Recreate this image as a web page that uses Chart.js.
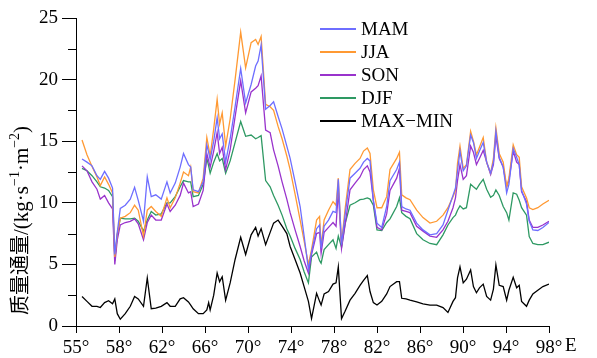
<!DOCTYPE html>
<html><head><meta charset="utf-8">
<script src="https://cdn.jsdelivr.net/npm/chart.js@4.4.1/dist/chart.umd.min.js"></script>
<style>html,body{margin:0;padding:0;background:#fff}#wrap{width:597px;height:358px;position:relative}
.pre{position:absolute;left:-999px;top:0;font-family:"Liberation Serif";font-size:19px}</style>
</head><body><span class="pre">55° MAM</span><span class="pre" style="font-family:'Noto Sans CJK SC'">质量通量</span><div id="wrap"><canvas id="c" width="597" height="358"></canvas></div>
<script>
// axis position (first tick at 54 is labelled 55°)
const lon = [54.56,55.02,55.49,55.95,56.26,56.66,57.03,57.40,57.61,57.84,
58.12,58.58,59.05,59.45,59.79,60.28,60.63,61.00,61.42,61.93,
62.46,62.76,63.23,63.69,64.00,64.46,64.67,64.90,65.39,65.83,
66.17,66.34,66.48,66.81,67.13,67.36,67.60,67.92,68.34,68.80,
69.32,69.78,70.29,70.71,70.94,71.22,71.64,72.06,72.38,72.80,
73.17,73.61,73.92,74.38,74.85,75.22,75.62,75.91,76.38,76.66,
76.80,77.08,77.49,77.91,78.19,78.40,78.70,79.03,79.49,79.96,
80.42,80.75,81.10,81.35,81.66,82.00,82.44,82.90,83.21,83.83,
84.09,84.30,84.70,85.07,85.69,86.28,86.93,87.55,88.14,88.60,
89.07,89.30,89.49,89.72,90.02,90.32,90.71,90.97,91.25,91.53,
91.88,92.20,92.57,92.83,93.06,93.37,93.74,94.06,94.27,94.67,
94.99,95.23,95.45,95.91,96.16,96.50,96.96,97.43,98.00];

const MAM = [13.55,13.3,13.0,12.2,11.9,12.55,12.0,11.2,5.8,7.6,
9.55,9.8,10.3,11.25,10.2,8.5,12.1,10.5,10.65,10.3,
11.7,10.8,11.6,12.9,14.0,13.1,12.9,11.05,10.9,11.7,
14.7,14.1,13.5,15.0,16.9,15.2,15.6,13.3,15.2,17.8,
20.9,18.1,19.6,21.1,21.5,22.8,17.6,17.9,18.2,17.0,
16.0,14.6,13.6,11.7,9.7,7.3,4.6,6.0,7.9,8.2,
6.3,8.1,8.6,9.3,9.2,11.9,6.6,9.0,12.0,12.4,
12.8,13.3,13.6,13.4,10.2,8.35,8.0,9.7,11.8,12.7,
13.3,9.7,9.5,9.4,8.35,7.8,7.4,7.5,8.2,9.4,
10.6,11.2,12.6,14.2,12.6,13.0,15.5,14.9,13.6,14.2,
14.9,13.3,12.4,13.3,15.8,13.7,12.9,10.8,11.5,14.4,
13.7,13.1,11.0,9.9,8.5,7.8,7.75,8.0,8.4];

const JJA = [15.1,13.9,12.95,12.1,11.4,12.1,11.5,10.8,5.6,7.5,
8.75,8.9,9.2,9.8,9.4,7.3,9.4,9.7,9.3,8.9,
10.4,9.6,10.4,11.6,12.5,12.2,12.9,10.9,10.8,12.0,
15.3,14.5,13.8,16.0,18.4,16.4,17.3,14.6,16.8,20.0,
23.85,20.95,23.0,23.25,22.85,23.5,18.0,17.8,17.5,16.2,
15.2,13.8,12.7,10.7,8.6,6.9,5.0,6.2,8.6,8.9,
6.45,8.6,9.4,10.1,9.8,12.0,6.7,9.5,12.7,13.2,
13.6,14.2,14.45,14.0,11.05,9.6,9.6,10.5,12.7,13.6,
14.1,10.65,10.4,10.25,9.4,8.8,8.35,8.5,9.0,9.6,
10.5,11.0,13.2,14.6,12.8,13.1,15.8,15.0,13.9,14.5,
15.3,13.3,12.4,13.6,16.1,14.0,13.3,11.3,12.0,14.7,
13.9,13.7,11.3,10.4,9.6,9.45,9.6,9.9,10.2];

const SON = [13.0,12.6,11.7,11.1,10.3,10.6,10.0,9.5,5.0,7.0,
8.2,8.4,8.5,8.7,8.3,7.0,8.4,9.0,8.6,8.6,
9.9,9.3,9.8,10.6,11.6,10.8,10.9,9.7,9.9,11.0,
14.0,13.4,12.9,14.2,15.7,14.0,14.5,12.7,14.3,17.0,
19.9,17.3,19.0,19.3,19.5,20.3,15.9,15.7,14.3,13.0,
11.7,10.3,9.2,7.8,6.45,5.3,4.3,5.8,7.5,7.6,
5.9,7.6,8.0,8.4,8.1,11.0,6.3,8.2,11.05,11.6,
12.1,12.7,13.0,12.5,10.2,8.0,7.8,9.1,11.0,12.0,
12.8,9.4,9.3,9.2,8.1,7.7,7.3,7.2,7.8,8.5,
9.6,10.4,11.8,13.1,11.9,12.2,14.6,14.1,13.1,13.6,
14.25,13.3,12.3,13.1,15.4,13.6,12.9,11.3,11.8,14.2,
13.3,13.1,10.9,10.1,8.6,8.0,8.0,8.2,8.5];

const DJF = [12.8,12.6,12.2,11.7,11.3,11.2,11.0,10.5,5.3,7.4,
8.75,8.7,8.7,8.75,8.5,7.7,8.6,9.3,9.0,9.1,
10.0,10.0,10.5,11.3,11.8,11.7,11.7,10.5,10.6,11.5,
13.6,13.0,12.4,13.3,14.0,13.4,13.6,12.4,13.4,14.9,
16.6,15.4,15.5,15.2,15.3,15.45,11.8,11.3,10.6,9.8,
9.0,7.9,7.3,6.3,5.4,4.4,3.5,5.6,6.0,5.3,
5.1,6.2,6.6,7.0,6.3,7.3,6.4,8.3,9.8,10.0,
10.25,10.3,10.4,10.3,9.8,7.8,7.75,8.4,8.7,9.7,
10.4,9.2,8.9,8.7,7.5,7.0,6.7,6.6,7.4,8.2,
8.8,9.0,9.4,9.75,9.5,9.6,11.5,11.3,11.1,11.5,
11.9,11.1,10.45,10.6,11.05,10.6,9.7,9.2,8.6,10.8,
10.7,10.2,9.6,9.0,7.26,6.7,6.6,6.6,6.8];

const MAXMIN = [2.4,2.0,1.6,1.6,1.5,1.9,2.05,1.8,2.2,1.0,
0.55,1.0,1.6,2.4,2.2,1.6,3.9,1.4,1.45,1.6,
1.9,1.6,1.6,2.2,2.3,1.95,1.7,1.4,1.0,1.0,
1.3,1.9,1.3,2.5,4.3,3.6,4.0,2.1,3.5,5.4,
7.2,5.8,7.4,8.0,7.3,7.9,6.6,7.6,8.35,8.6,
8.1,7.5,6.45,5.4,4.3,3.2,2.0,0.6,2.65,2.0,
1.7,2.6,2.8,3.4,3.5,4.8,0.6,1.2,2.1,2.65,
3.3,3.7,4.1,2.8,1.9,1.7,2.0,2.6,3.2,3.6,
3.6,2.25,2.2,2.1,1.95,1.8,1.7,1.7,1.5,1.1,
2.0,2.3,3.9,4.8,3.5,3.8,4.55,3.2,2.7,3.1,
3.4,2.4,2.1,3.0,4.95,3.3,3.2,2.1,2.9,3.95,
3.1,3.3,2.0,1.6,2.1,2.6,2.9,3.2,3.4];

const seriesNames = ['MAM','JJA','SON','DJF','MAX\u2212MIN'];
const seriesColors = ['#6e6eff','#ff9933','#9933cc','#2e9963','#000000'];
const xTickLabels = ['55°','58°','62°','66°','70°','74°','78°','82°','86°','90°','94°','98°'];
const xAxisUnit = 'E';
// [text, size, raise]
const yTitleParts = [['质量通量',20,0],['/(kg·s',21,0],['\u22121',14,-7],['·m',21,0],['\u22122',14,-7],[')',21,0]];

const serif = "'Liberation Serif', 'Noto Sans CJK SC', serif";
const allSeries = [MAM, JJA, SON, DJF, MAXMIN];

function build() {
  const datasets = allSeries.map((s, i) => ({
    label: seriesNames[i],
    data: lon.map((x, j) => ({x: x, y: s[j]})),
    borderColor: seriesColors[i],
    backgroundColor: seriesColors[i],
    borderWidth: 1.3,
    pointRadius: 0,
    tension: 0,
    fill: false
  }));

  const extras = {
    id: 'extras',
    afterDraw(chart) {
      const ctx = chart.ctx, y = chart.scales.y, x = chart.scales.x, ca = chart.chartArea;
      ctx.save();
      ctx.strokeStyle = '#000'; ctx.lineWidth = 1;
      for (let v = 2.5; v < 25; v += 5) {
        const py = Math.round(y.getPixelForValue(v)) + 0.5;
        ctx.beginPath(); ctx.moveTo(ca.left - 8, py); ctx.lineTo(ca.left, py); ctx.stroke();
      }
      ctx.fillStyle = '#000';
      ctx.font = '19px ' + serif;
      ctx.textBaseline = 'middle'; ctx.textAlign = 'left';
      ctx.fillText(xAxisUnit, x.getPixelForValue(98) + 16, 346);
      ctx.font = '19px ' + serif;
      chart.data.datasets.forEach((d, i) => {
        const ly = 29 + i * 23;
        ctx.strokeStyle = d.borderColor; ctx.lineWidth = 2;
        ctx.beginPath(); ctx.moveTo(320, ly); ctx.lineTo(356, ly); ctx.stroke();
        ctx.fillStyle = '#000';
        ctx.fillText(d.label, 361, ly + 1);
      });
      ctx.translate(22, 315);
      ctx.rotate(-Math.PI / 2);
      let pos = 0;
      yTitleParts.forEach(([t, size, raise]) => {
        ctx.font = size + 'px ' + serif;
        ctx.textBaseline = 'middle';
        ctx.fillText(t, pos, raise);
        pos += ctx.measureText(t).width;
      });
      ctx.restore();
    }
  };

  new Chart(document.getElementById('c'), {
    type: 'line',
    data: { datasets },
    options: {
      responsive: false, animation: false, devicePixelRatio: 1,
      layout: { padding: { top: 18, right: 48, left: 0, bottom: 0 } },
      plugins: { legend: { display: false }, tooltip: { enabled: false } },
      scales: {
        x: {
          type: 'linear', min: 54, max: 98,
          afterFit(s) { s.height = 32; },
          ticks: { stepSize: 4, autoSkip: false, maxRotation: 0, padding: 4, color: '#000',
            font: { family: serif, size: 19 },
            callback: (v) => xTickLabels[Math.round((v - 54) / 4)] },
          grid: { drawOnChartArea: false, tickLength: 7, color: '#000' },
          border: { color: '#000', width: 1 }
        },
        y: {
          min: 0, max: 25,
          afterFit(s) { s.width = 76; },
          ticks: { stepSize: 5, padding: 4, color: '#000', font: { family: serif, size: 19 } },
          grid: { drawOnChartArea: false, tickLength: 14, color: '#000' },
          border: { color: '#000', width: 1 }
        }
      }
    },
    plugins: [extras]
  });
}

Promise.all([
  document.fonts.load("19px 'Liberation Serif'"),
  document.fonts.load("20px 'Noto Sans CJK SC'", '质量通量')
]).catch(() => {}).then(build);
</script></body></html>
